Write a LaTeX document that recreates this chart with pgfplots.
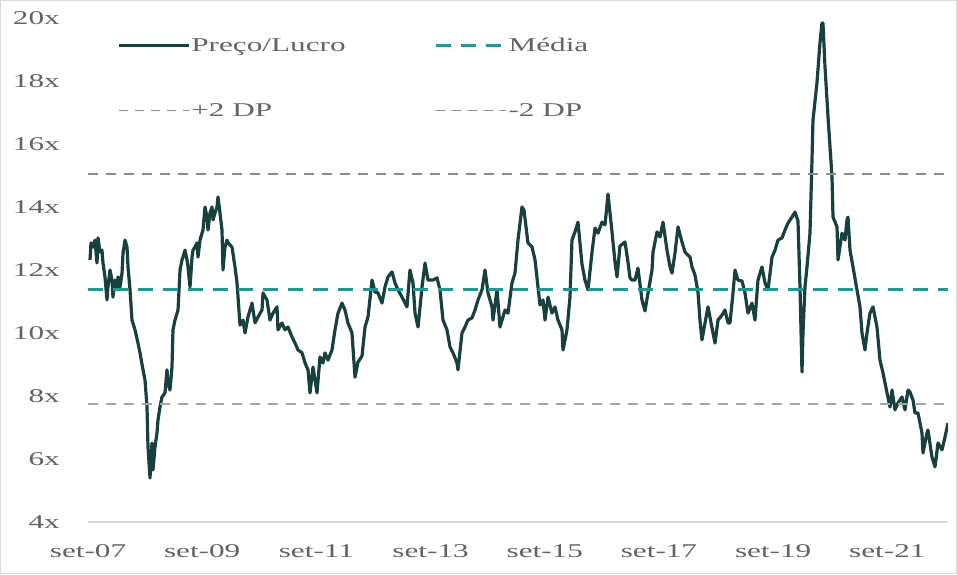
\documentclass[border=0pt]{standalone}
\usepackage{fontspec}
\setmainfont[FakeStretch=1.6]{Liberation Serif}
\usepackage{pgfplots}
\usepackage{pgfplotstable}
\pgfplotsset{compat=1.18}
\definecolor{plc}{HTML}{17403F}
\definecolor{mediac}{HTML}{23968D}
\definecolor{dpa}{HTML}{8C8C8C}
\definecolor{dpb}{HTML}{A6A6A6}
\definecolor{txt}{HTML}{636363}
\definecolor{frame}{HTML}{D9D9D9}
\pgfplotstableread{
m v
0.42 12.32
0.63 12.86
1.05 12.73
1.47 12.95
1.89 12.22
2.10 13.02
2.52 12.57
2.94 12.63
3.15 12.22
3.57 11.78
3.99 11.05
4.20 11.46
4.62 12.00
5.04 11.68
5.25 11.14
5.67 11.68
6.09 11.37
6.31 11.78
6.73 11.46
7.15 11.90
7.36 12.54
7.78 12.95
8.20 12.73
8.41 12.10
8.83 11.37
9.25 10.41
9.88 10.10
10.51 9.68
10.93 9.37
11.56 8.83
11.98 8.51
12.40 7.65
12.61 6.38
13.03 5.40
13.45 6.51
13.66 5.65
14.08 6.38
14.50 6.83
14.71 7.24
15.13 7.65
15.55 7.97
16.18 8.10
16.60 8.83
16.81 8.41
17.23 8.19
17.65 8.92
17.86 10.10
18.28 10.41
18.92 10.73
19.34 12.00
19.76 12.32
19.97 12.41
20.39 12.63
20.81 12.32
21.02 12.10
21.44 11.46
21.86 12.41
22.07 12.63
22.49 12.73
22.91 12.86
23.12 12.41
23.54 12.95
23.96 13.17
24.17 13.27
24.59 14.00
25.01 13.68
25.22 13.27
25.64 13.81
26.06 14.00
26.27 13.59
26.69 13.81
27.11 14.00
27.32 14.32
27.74 13.81
28.16 13.27
28.37 12.00
28.79 12.73
29.21 12.95
29.42 12.86
30.26 12.73
30.89 12.10
31.32 11.59
31.95 10.25
32.58 10.41
33.00 10.00
33.63 10.51
34.47 10.95
35.10 10.32
35.73 10.51
36.57 10.73
36.78 11.27
37.62 11.05
38.25 10.41
38.88 10.63
39.72 10.83
39.93 10.10
40.77 10.32
41.40 10.10
42.03 10.19
42.88 9.87
43.51 9.68
44.14 9.46
44.98 9.37
45.61 9.05
46.24 8.83
46.66 8.10
47.29 8.92
48.13 8.10
48.76 9.24
49.39 9.05
49.81 9.37
50.44 9.14
51.28 9.46
51.91 10.10
52.54 10.63
53.38 10.95
54.01 10.73
54.64 10.32
55.48 10.00
56.12 8.60
56.75 9.08
57.59 9.27
58.22 10.19
58.85 10.51
59.69 11.68
60.32 11.30
60.95 11.27
61.79 10.95
62.42 11.46
63.05 11.78
63.89 11.94
64.52 11.59
65.15 11.37
65.99 11.14
67.04 10.83
67.67 12.00
68.31 11.59
68.73 10.63
69.36 10.19
70.20 11.46
70.83 12.22
71.46 11.68
72.51 11.68
73.35 11.75
73.98 11.37
74.61 10.41
75.45 10.10
76.08 9.56
76.71 9.37
77.55 9.05
77.76 8.83
78.60 10.00
79.23 10.19
79.86 10.41
80.71 10.48
81.34 10.73
81.97 11.05
82.81 11.37
83.44 12.00
84.07 11.27
84.91 10.83
85.12 10.41
85.96 11.37
86.59 10.19
87.64 10.73
88.27 10.63
89.11 11.59
89.74 11.90
90.37 12.95
91.21 14.00
91.63 13.90
92.47 12.86
93.32 12.73
93.95 12.32
94.58 11.46
95.00 10.89
95.63 11.05
96.05 10.41
96.68 11.14
97.52 10.63
98.15 10.83
98.78 10.41
99.62 10.10
99.83 9.46
100.67 10.10
101.30 11.14
101.72 12.95
102.35 13.21
102.98 13.52
103.82 12.19
104.45 11.68
105.09 11.37
105.93 12.57
106.56 13.33
107.19 13.17
108.03 13.52
108.66 13.43
109.29 14.41
110.13 13.21
110.76 12.25
111.18 11.78
111.81 12.76
112.86 12.89
113.49 12.25
113.91 11.75
114.33 11.68
114.96 11.68
115.59 12.06
116.43 11.05
117.06 10.70
117.70 11.27
118.54 12.00
118.75 12.57
119.59 13.21
120.22 13.05
120.85 13.52
121.69 12.63
122.32 12.10
122.74 11.90
123.37 12.54
124.00 13.37
124.84 12.89
125.47 12.57
126.53 12.41
126.94 12.10
127.57 11.84
128.20 11.30
128.62 10.41
129.04 9.78
129.68 10.32
130.31 10.83
131.15 10.16
131.78 9.68
132.41 10.41
133.25 10.57
133.88 10.73
134.51 10.32
134.93 10.32
135.56 11.27
135.98 12.00
136.61 11.68
137.45 11.65
138.08 11.27
138.71 10.63
139.55 10.95
140.18 10.41
140.81 11.68
141.65 12.10
142.29 11.59
142.92 11.37
143.76 12.41
144.39 12.63
145.02 12.95
145.86 13.02
146.49 13.27
147.12 13.49
147.96 13.68
148.59 13.84
149.01 13.65
149.22 13.56
149.64 11.46
150.06 8.76
150.27 10.00
150.69 11.46
151.11 12.10
151.74 13.17
152.16 15.49
152.37 16.76
153.21 17.94
153.84 19.21
154.26 19.84
154.47 19.84
154.90 18.44
155.53 16.86
156.37 14.95
156.58 13.68
157.42 13.37
157.63 12.32
158.47 13.17
159.10 12.95
159.52 13.59
159.73 13.68
160.15 12.63
160.78 12.10
161.62 11.37
162.25 10.83
162.67 10.00
163.30 9.46
163.72 10.00
164.35 10.63
164.98 10.83
165.82 10.19
166.45 9.14
167.09 8.73
167.93 8.10
168.56 7.65
168.98 8.19
169.61 7.56
170.24 7.78
171.08 7.97
171.71 7.56
172.34 8.19
172.76 8.13
173.39 7.87
173.81 7.46
174.44 7.46
175.28 6.83
175.49 6.19
176.33 6.83
176.54 6.92
177.38 6.06
178.02 5.75
178.65 6.51
179.49 6.29
180.12 6.70
180.75 7.14
}\pldata
\begin{document}
\begin{tikzpicture}[x=1pt,y=1pt]
\useasboundingbox (0,0) rectangle (957,574);
\draw[frame, line width=1pt] (0.5,0.5) rectangle (956.5,573.5);
\begin{axis}[
  at={(88pt,52pt)}, anchor=south west,
  scale only axis, width=860pt, height=504pt,
  xmin=0, xmax=180.75, ymin=4, ymax=20,
  axis x line*=bottom, axis y line*=left,
  axis line style={-},
  x axis line style={draw=frame, line width=2pt},
  y axis line style={draw=none},
  major tick length=0pt,
  xtick={0,24,48,72,96,120,144,168},
  xticklabels={set-07,set-09,set-11,set-13,set-15,set-17,set-19,set-21},
  ytick={4,6,8,10,12,14,16,18,20},
  yticklabels={4x,6x,8x,10x,12x,14x,16x,18x,20x},
  tick label style={font=\fontsize{19.5}{22}\selectfont, text=txt},
  yticklabel style={anchor=east, inner sep=0pt, xshift=-28pt},
  xticklabel style={anchor=north, inner sep=0pt, yshift=-22pt},
  legend columns=2,
  legend cell align=left,
  legend style={at={(0,1)}, anchor=north west, xshift=26pt, yshift=-17pt,
    draw=none, fill=none, font=\fontsize{19.5}{22}\selectfont, text=txt,
    row sep=48pt,
    /tikz/every even column/.append style={column sep=88pt},
    nodes={inner sep=1pt}},
  legend image code/.code={\draw[#1] (0pt,0pt) -- (70pt,0pt);},
]
\addplot[plc, line width=3.2pt, line join=round] table[x=m,y=v] {\pldata};
\addlegendentry{Preço/Lucro}
\addplot[mediac, line width=3pt, dash pattern=on 15pt off 10pt] coordinates {(0,11.39) (180.75,11.39)};
\addlegendentry{Média}
\addplot[dpa, line width=2.5pt, dash pattern=on 10pt off 8pt,
  legend image post style={line width=1.6pt, dash pattern=on 9pt off 7pt}] coordinates {(0,15.05) (180.75,15.05)};
\addlegendentry{+2 DP}
\addplot[dpb, line width=2.5pt, dash pattern=on 10pt off 8pt,
  legend image post style={dpa, line width=1.6pt, dash pattern=on 9pt off 7pt}] coordinates {(0,7.74) (180.75,7.74)};
\addlegendentry{-2 DP}
\end{axis}
\end{tikzpicture}
\end{document}
